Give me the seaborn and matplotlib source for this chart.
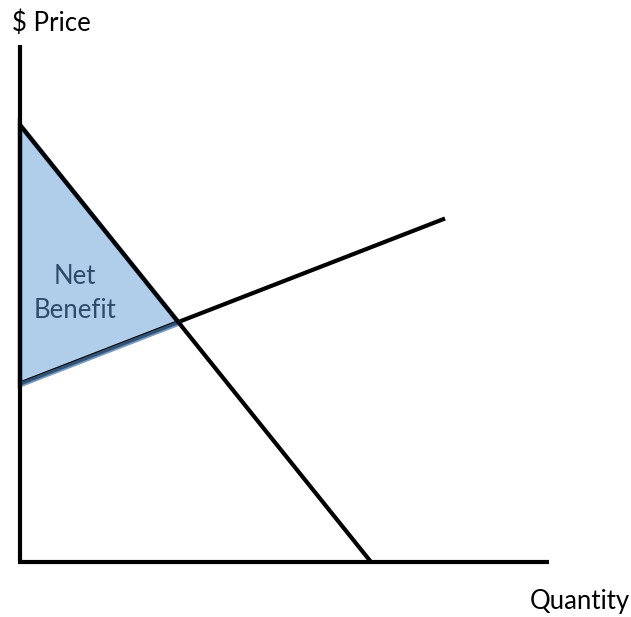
import matplotlib
matplotlib.use("Agg")
import matplotlib.pyplot as plt
import seaborn as sns
import numpy as np
import pandas as pd

# Data (quantity, price) in chart units
demand_q = [0.0, 7.02]
demand_p = [8.74, 0.0]
supply_q = [0.0, 8.5]
supply_p = [3.54, 6.84]
yaxis_top = 10.34
xaxis_end = 10.58
labels = {"y": "$ Price", "x": "Quantity", "area": "Net\nBenefit"}

sns.set_theme(style="white")
plt.rcParams['font.family'] = ['Lato', 'DejaVu Sans']

fig = plt.figure(figsize=(6.31, 6.17), dpi=100)
ax = fig.add_axes([0, 0, 1, 1])
ax.set_xlim(-0.4, 12.22)
ax.set_ylim(-1.1, 11.24)
ax.axis("off")

# intersection
md = (demand_p[1] - demand_p[0]) / (demand_q[1] - demand_q[0])
ms = (supply_p[1] - supply_p[0]) / (supply_q[1] - supply_q[0])
qi = (supply_p[0] - demand_p[0]) / (md - ms)
pi = demand_p[0] + md * qi

tri_q = [0, qi, 0]
tri_p = [demand_p[0], pi, supply_p[0]]
ax.fill(tri_q, tri_p, facecolor="#b0cdea", edgecolor="none", zorder=1)

df = pd.DataFrame({
    "q": demand_q + supply_q + [0, 0] + [-0.04, xaxis_end],
    "p": demand_p + supply_p + [0, yaxis_top] + [0, 0],
    "line": ["demand"] * 2 + ["supply"] * 2 + ["yaxis"] * 2 + ["xaxis"] * 2,
})
for name, g in df.groupby("line"):
    if name == "supply":
        g = g.assign(p=g["p"] + 0.03)
    sns.lineplot(data=g, x="q", y="p", color="black", linewidth=3,
                 sort=False, estimator=None, ax=ax,
                 zorder=1.5 if name == "supply" else 3,
                 solid_capstyle="butt")

ax.fill(tri_q, tri_p, facecolor="none", edgecolor=(0.27, 0.46, 0.66, 0.72),
        linewidth=3.5, zorder=2)

ax.text(-0.16, 10.62, labels["y"], fontsize=18.5, ha="left", va="baseline", color="black")
ax.text(12.2, -0.94, labels["x"], fontsize=18.5, ha="right", va="baseline", color="black")
ax.text(1.1, 5.36, labels["area"], fontsize=18.5, ha="center", va="center",
        color="#2f4b6b", linespacing=1.45)

fig.savefig("out.png", dpi=100)
